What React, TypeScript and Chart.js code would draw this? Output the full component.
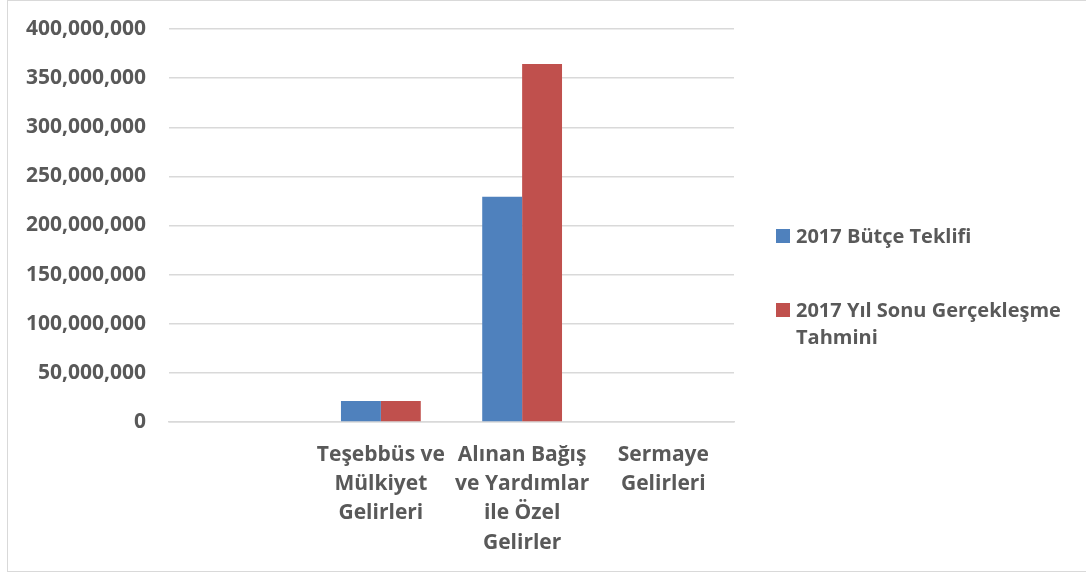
import React, { useEffect, useRef } from "react";
import { Chart, registerables } from "chart.js";

Chart.register(...registerables);

const categories: string[][] = [
  [""],
  ["Teşebbüs ve", "Mülkiyet", "Gelirleri"],
  ["Alınan Bağış", "ve Yardımlar", "ile Özel", "Gelirler"],
  ["Sermaye", "Gelirleri"],
];

const seriesNames = ["2017 Bütçe Teklifi", "2017 Yıl Sonu Gerçekleşme Tahmini"];
const butceTeklifi = [0, 21500000, 229200000, 0];
const yilSonuTahmini = [0, 21500000, 364500000, 0];

const yMin = 0;
const yMax = 400000000;
const yStep = 50000000;

const BLUE = "#4F81BD";
const RED = "#C0504D";
const TEXT = "#595959";
const GRID = "#d9d9d9";
const FONT = "'Open Sans', 'Noto Sans', sans-serif";

export default function App() {
  const canvasRef = useRef<HTMLCanvasElement | null>(null);

  useEffect(() => {
    if (!canvasRef.current) return;
    const chart = new Chart(canvasRef.current, {
      type: "bar",
      data: {
        labels: categories,
        datasets: [
          {
            label: seriesNames[0],
            data: butceTeklifi,
            backgroundColor: BLUE,
            borderWidth: 0,
            categoryPercentage: 0.565,
            barPercentage: 1,
          },
          {
            label: seriesNames[1],
            data: yilSonuTahmini,
            backgroundColor: RED,
            borderWidth: 0,
            categoryPercentage: 0.565,
            barPercentage: 1,
          },
        ],
      },
      options: {
        animation: false,
        responsive: false,
        maintainAspectRatio: false,
        layout: { padding: { top: 29, right: 352, left: 0, bottom: 0 } },
        plugins: {
          legend: { display: false },
          tooltip: { enabled: false },
        },
        scales: {
          x: {
            grid: { display: false, drawTicks: false },
            border: { display: true, color: GRID, width: 1.5 },
            ticks: {
              color: TEXT,
              font: { family: FONT, size: 21, weight: "bold", lineHeight: 1.4 },
              maxRotation: 0,
              minRotation: 0,
              autoSkip: false,
              padding: 18,
            },
            afterFit: (scale: any) => {
              scale.height = 151;
              scale.paddingLeft = 0;
              scale.paddingRight = 0;
            },
          },
          y: {
            min: yMin,
            max: yMax,
            grid: { color: GRID, lineWidth: 1.5, drawTicks: false },
            border: { display: false },
            ticks: {
              stepSize: yStep,
              color: TEXT,
              font: { family: FONT, size: 21, weight: "bold" },
              padding: 23,
              callback: (v: any) => Number(v).toLocaleString("en-US"),
            },
            afterFit: (scale: any) => {
              scale.width = 169;
              scale.paddingTop = 0;
              scale.paddingBottom = 0;
            },
          },
        },
      },
    });
    return () => chart.destroy();
  }, []);

  const legendText: React.CSSProperties = {
    position: "absolute",
    fontFamily: FONT,
    fontWeight: "bold",
    fontSize: 20,
    color: TEXT,
    lineHeight: "27px",
    whiteSpace: "nowrap",
  };

  return (
    <div
      style={{
        position: "absolute",
        left: 0,
        top: 0,
        width: 1086,
        height: 573,
        overflow: "hidden",
        background: "#fff",
      }}
    >
      <div
        style={{
          position: "absolute",
          left: 7,
          top: 0,
          width: 1100,
          height: 570,
          border: `1.5px solid ${GRID}`,
        }}
      />
      <canvas
        ref={canvasRef}
        width={1086}
        height={573}
        style={{ position: "absolute", left: 0, top: 0, width: 1086, height: 573 }}
      />
      <div style={{ position: "absolute", left: 776, top: 229, width: 14, height: 14, background: BLUE }} />
      <div style={{ ...legendText, left: 796, top: 222 }}>{seriesNames[0]}</div>
      <div style={{ position: "absolute", left: 776, top: 303, width: 14, height: 14, background: RED }} />
      <div style={{ ...legendText, left: 796, top: 296, whiteSpace: "normal", width: 280 }}>
        2017 Yıl Sonu Gerçekleşme
        <br />
        Tahmini
      </div>
    </div>
  );
}
